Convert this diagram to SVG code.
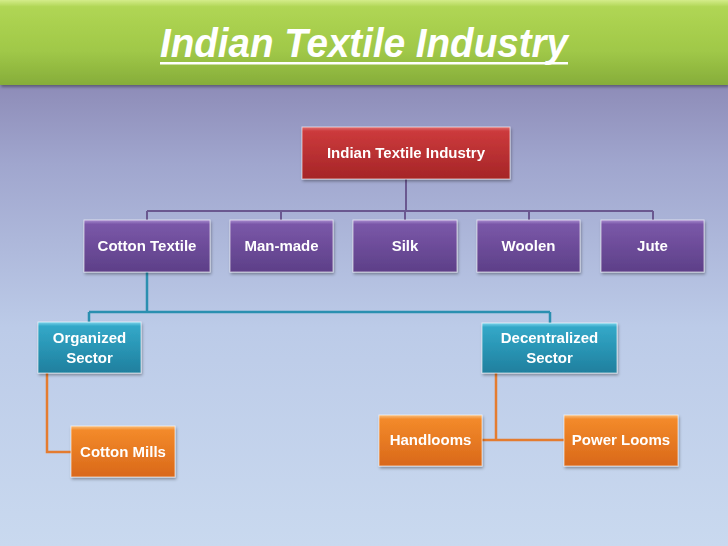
<svg xmlns="http://www.w3.org/2000/svg" width="728" height="546" viewBox="0 0 728 546">
<defs>
<linearGradient id="bg" x1="0" y1="0" x2="0" y2="1">
<stop offset="0" stop-color="#7a70a0"/>
<stop offset="0.3" stop-color="#a0a6ce"/>
<stop offset="0.6" stop-color="#bccbe8"/>
<stop offset="1" stop-color="#c9d9ef"/>
</linearGradient>
<linearGradient id="title" x1="0" y1="0" x2="0" y2="1">
<stop offset="0" stop-color="#d4ec8a"/>
<stop offset="0.08" stop-color="#b0d654"/>
<stop offset="0.6" stop-color="#a0c848"/>
<stop offset="1" stop-color="#86ad3a"/>
</linearGradient>
<linearGradient id="red" x1="0" y1="0" x2="0" y2="1">
<stop offset="0" stop-color="#e07070"/>
<stop offset="0.08" stop-color="#cc3a3c"/>
<stop offset="1" stop-color="#a52527"/>
</linearGradient>
<linearGradient id="purple" x1="0" y1="0" x2="0" y2="1">
<stop offset="0" stop-color="#a88cd0"/>
<stop offset="0.08" stop-color="#7a57a8"/>
<stop offset="1" stop-color="#5d3f88"/>
</linearGradient>
<linearGradient id="teal" x1="0" y1="0" x2="0" y2="1">
<stop offset="0" stop-color="#7ed4ec"/>
<stop offset="0.08" stop-color="#33a8c8"/>
<stop offset="1" stop-color="#1f7f9e"/>
</linearGradient>
<linearGradient id="orange" x1="0" y1="0" x2="0" y2="1">
<stop offset="0" stop-color="#f8c080"/>
<stop offset="0.08" stop-color="#f38a2a"/>
<stop offset="1" stop-color="#d9681a"/>
</linearGradient>
<filter id="sh" x="-10%" y="-10%" width="125%" height="140%">
<feDropShadow dx="1" dy="2" stdDeviation="1.5" flood-color="#000" flood-opacity="0.35"/>
</filter>
</defs>
<style>
.lbl{font-family:"Liberation Sans",Arial,sans-serif;font-weight:bold;font-size:15px;fill:#fff;text-anchor:middle}
.box{stroke:#ffffff;stroke-opacity:0.6;stroke-width:1}
.cp{fill:none;stroke:#6a5890;stroke-width:2}
.ct{fill:none;stroke:#2b8fb0;stroke-width:2.5}
.co{fill:none;stroke:#e47c30;stroke-width:2.5}
</style>
<rect width="728" height="546" fill="url(#bg)"/>
<g id="title-bar" filter="url(#sh)">
<rect x="0" y="0" width="728" height="85" fill="url(#title)"/>
</g>
<g id="title-text">
<text x="364" y="57" font-family="'Liberation Sans',Arial,sans-serif" font-style="italic" font-weight="bold" font-size="40" fill="#fff" text-anchor="middle" textLength="408" lengthAdjust="spacingAndGlyphs">Indian Textile Industry</text>
<rect x="160" y="62" width="408" height="2.5" fill="#fff"/>
</g>
<g id="connectors">
<path class="cp" d="M406 179V211M147 211H653M147 211V220M281 211V220M405 211V220M529 211V220M653 211V220"/>
<path class="ct" d="M147 272V312M89 312H550M89 312V322M550 312V323"/>
<path class="co" d="M47 373V452H71"/>
<path class="co" d="M496 373V440M482 440H564"/>
</g>
<g id="root" filter="url(#sh)">
<rect class="box" x="302" y="127" width="208" height="52" fill="url(#red)"/>
<text class="lbl" x="406" y="158">Indian Textile Industry</text>
</g>
<g id="cotton-textile" filter="url(#sh)">
<rect class="box" x="84" y="220" width="126" height="52" fill="url(#purple)"/>
<text class="lbl" x="147" y="251">Cotton Textile</text>
</g>
<g id="man-made" filter="url(#sh)">
<rect class="box" x="230" y="220" width="103" height="52" fill="url(#purple)"/>
<text class="lbl" x="281.5" y="251">Man-made</text>
</g>
<g id="silk" filter="url(#sh)">
<rect class="box" x="353" y="220" width="104" height="52" fill="url(#purple)"/>
<text class="lbl" x="405" y="251">Silk</text>
</g>
<g id="woolen" filter="url(#sh)">
<rect class="box" x="477" y="220" width="103" height="52" fill="url(#purple)"/>
<text class="lbl" x="528.5" y="251">Woolen</text>
</g>
<g id="jute" filter="url(#sh)">
<rect class="box" x="601" y="220" width="103" height="52" fill="url(#purple)"/>
<text class="lbl" x="652.5" y="251">Jute</text>
</g>
<g id="organized-sector" filter="url(#sh)">
<rect class="box" x="38" y="322" width="103" height="51" fill="url(#teal)"/>
<text class="lbl" x="89.5" y="343">Organized</text>
<text class="lbl" x="89.5" y="363">Sector</text>
</g>
<g id="decentralized-sector" filter="url(#sh)">
<rect class="box" x="482" y="323" width="135" height="50" fill="url(#teal)"/>
<text class="lbl" x="549.5" y="343">Decentralized</text>
<text class="lbl" x="549.5" y="363">Sector</text>
</g>
<g id="cotton-mills" filter="url(#sh)">
<rect class="box" x="71" y="426" width="104" height="51" fill="url(#orange)"/>
<text class="lbl" x="123" y="457">Cotton Mills</text>
</g>
<g id="handlooms" filter="url(#sh)">
<rect class="box" x="379" y="415" width="103" height="51" fill="url(#orange)"/>
<text class="lbl" x="430.5" y="445">Handlooms</text>
</g>
<g id="power-looms" filter="url(#sh)">
<rect class="box" x="564" y="415" width="114" height="51" fill="url(#orange)"/>
<text class="lbl" x="621" y="445">Power Looms</text>
</g>
</svg>
